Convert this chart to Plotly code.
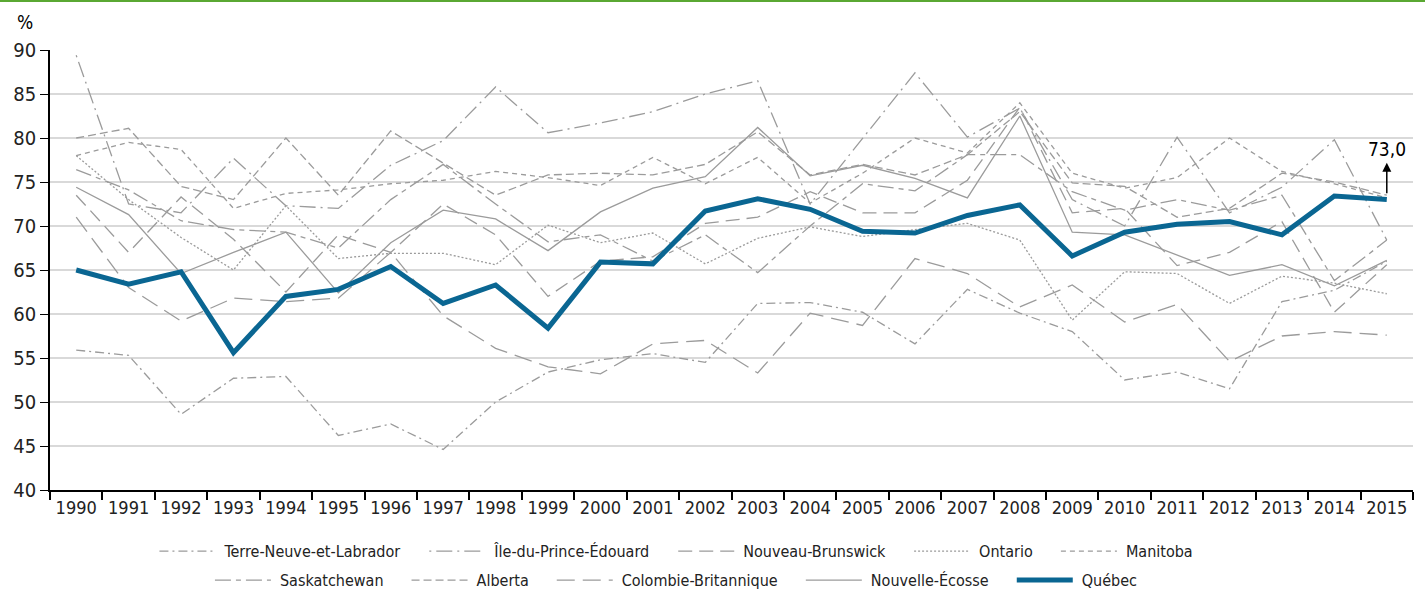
import plotly.graph_objects as go

years = [str(y) for y in range(1990, 2016)]

terre_neuve = [55.9, 55.3, 48.6, 52.7, 52.9, 46.2, 47.5, 44.6, 50.0, 53.4, 54.8, 55.5, 54.5,
               61.2, 61.3, 60.2, 56.6, 62.8, 60.1, 58.0, 52.5, 53.4, 51.5, 61.4, 62.7, 66.0]
ile_pe = [89.4, 72.5, 71.5, 77.7, 72.3, 72.0, 76.9, 79.7, 85.8, 80.6, 81.7, 83.0, 85.0,
          86.5, 72.5, 80.0, 87.4, 80.1, 83.4, 73.0, 70.0, 80.1, 71.5, 74.4, 79.8, 68.4]
nouveau_brunswick = [73.5, 67.0, 73.3, 68.5, 62.5, 69.0, 67.0, 72.5, 69.0, 62.0, 66.0, 66.5, 70.3,
                     71.0, 73.9, 71.5, 71.5, 75.2, 83.5, 71.5, 72.0, 65.5, 67.0, 70.5, 60.2, 65.6]
ontario = [78.0, 73.0, 68.7, 65.0, 72.3, 66.3, 66.9, 66.9, 65.6, 70.1, 68.1, 69.2, 65.7,
           68.6, 69.9, 68.8, 69.6, 70.3, 68.4, 59.3, 64.8, 64.6, 61.2, 64.3, 63.5, 62.3]
manitoba = [78.0, 79.5, 78.7, 72.0, 73.7, 74.1, 74.8, 75.2, 76.2, 75.5, 74.6, 77.8, 74.8,
            77.8, 72.6, 76.0, 80.0, 78.3, 84.0, 76.0, 74.3, 75.5, 80.0, 76.2, 74.8, 73.2]
saskatchewan = [76.4, 74.1, 70.6, 69.6, 69.3, 67.5, 73.0, 77.0, 72.5, 68.2, 69.0, 66.0, 69.0,
                64.7, 70.0, 74.8, 74.0, 78.1, 78.1, 73.9, 71.8, 73.0, 71.8, 73.5, 63.8, 68.4]
alberta = [80.0, 81.1, 74.5, 73.0, 80.0, 73.5, 80.8, 77.2, 73.5, 75.8, 76.0, 75.8, 77.0,
           80.7, 75.8, 77.0, 75.8, 78.1, 83.0, 74.9, 74.5, 71.0, 72.0, 76.0, 75.0, 73.5]
colombie_b = [71.0, 63.0, 59.2, 61.8, 61.4, 61.8, 67.0, 59.8, 56.1, 54.0, 53.2, 56.6, 57.0,
              53.3, 60.1, 58.7, 66.3, 64.6, 60.8, 63.3, 59.1, 61.1, 54.6, 57.5, 58.0, 57.6]
nouvelle_ecosse = [74.4, 71.3, 64.6, 67.0, 69.3, 62.4, 68.1, 71.8, 70.8, 67.2, 71.6, 74.3, 75.6,
                   81.2, 75.7, 76.9, 75.4, 73.2, 82.5, 69.3, 69.0, 66.7, 64.4, 65.6, 63.2, 66.1]
quebec = [65.0, 63.4, 64.8, 55.6, 62.0, 62.8, 65.4, 61.2, 63.3, 58.4, 65.9, 65.7, 71.7,
          73.1, 71.9, 69.4, 69.2, 71.2, 72.4, 66.6, 69.3, 70.2, 70.5, 69.0, 73.4, 73.0]

GREY = "#9b9b9b"
FONT = "DejaVu Sans Condensed, Liberation Sans Narrow, Roboto, sans-serif"

series = [
    ("Terre-Neuve-et-Labrador", terre_neuve, "9px,4px,2px,4px", "legend"),
    ("Île-du-Prince-Édouard", ile_pe, "2px,5px,16px,5px", "legend"),
    ("Nouveau-Brunswick", nouveau_brunswick, "14px,7px", "legend"),
    ("Ontario", ontario, "2px,2px", "legend"),
    ("Manitoba", manitoba, "5px,4px", "legend"),
    ("Saskatchewan", saskatchewan, "16px,5px,5px,5px", "legend2"),
    ("Alberta", alberta, "8px,4px", "legend2"),
    ("Colombie-Britannique", colombie_b, "18px,8px", "legend2"),
    ("Nouvelle-Écosse", nouvelle_ecosse, "solid", "legend2"),
]

fig = go.Figure()
for name, vals, dash, leg in series:
    fig.add_trace(go.Scatter(x=years, y=vals, name=name, mode="lines",
                             line=dict(color=GREY, width=1.3, dash=dash),
                             legend=leg))
fig.add_trace(go.Scatter(x=years, y=quebec, name="Québec", mode="lines",
                         line=dict(color="#0a6692", width=5), legend="legend2"))

last = quebec[-1]
last_idx = len(years) - 1
fig.add_annotation(x=last_idx, y=last + 4.2, xref="x", yref="y", text="",
                   showarrow=True, arrowhead=2, arrowsize=1.2, arrowwidth=1.5,
                   arrowcolor="black", ax=0, ay=32, axref="pixel", ayref="pixel")
fig.add_annotation(x=last_idx, y=last + 5.7, xref="x", yref="y",
                   text=f"{last:.1f}".replace(".", ","), showarrow=False,
                   font=dict(size=19, color="black", family=FONT))
fig.add_annotation(x=-0.018, y=1.035, xref="paper", yref="paper", text="%",
                   showarrow=False, yanchor="bottom", xanchor="center",
                   font=dict(size=19, color="black", family=FONT))

fig.add_shape(type="line", xref="paper", yref="paper", x0=-0.04, x1=1.01,
              y0=1.1114, y1=1.1114, line=dict(color="#5aa832", width=2))

fig.update_layout(
    width=1425, height=590,
    margin=dict(l=50, r=12, t=50, b=100, autoexpand=False),
    paper_bgcolor="white", plot_bgcolor="white",
    font=dict(family=FONT, size=18, color="#222"),
    showlegend=True,
    legend=dict(orientation="h", x=0.453, xanchor="center", y=-0.139, yanchor="middle",
                font=dict(size=16, family=FONT), itemwidth=78, tracegroupgap=0),
    legend2=dict(orientation="h", x=0.453, xanchor="center", y=-0.205, yanchor="middle",
                 font=dict(size=16, family=FONT), itemwidth=78, tracegroupgap=0),
)
fig.update_xaxes(type="category", range=[-0.5, len(years) - 0.5], tickson="boundaries",
                 ticks="outside", ticklen=8, tickangle=0, automargin=False,
                 tickcolor="black", tickwidth=1.5, showline=True, linecolor="black",
                 linewidth=2, showgrid=False, tickfont=dict(size=18, family=FONT, color="#222"))
fig.update_yaxes(range=[40, 90], dtick=5, ticks="outside", ticklen=8, tickcolor="black",
                 automargin=False,
                 showline=True, linecolor="black", linewidth=1.5, gridcolor="#d9d9d9",
                 gridwidth=1.5, zeroline=False, tickfont=dict(size=20, family=FONT, color="#222"))

post = (
    "document.body.style.margin='0';document.body.style.overflow='hidden';"
    "document.querySelectorAll('.legendlines path').forEach(function(p){"
    "p.setAttribute('d','M23,0h56');});"
)
fig.write_html("out.html", config={"displayModeBar": False}, post_script=post)
